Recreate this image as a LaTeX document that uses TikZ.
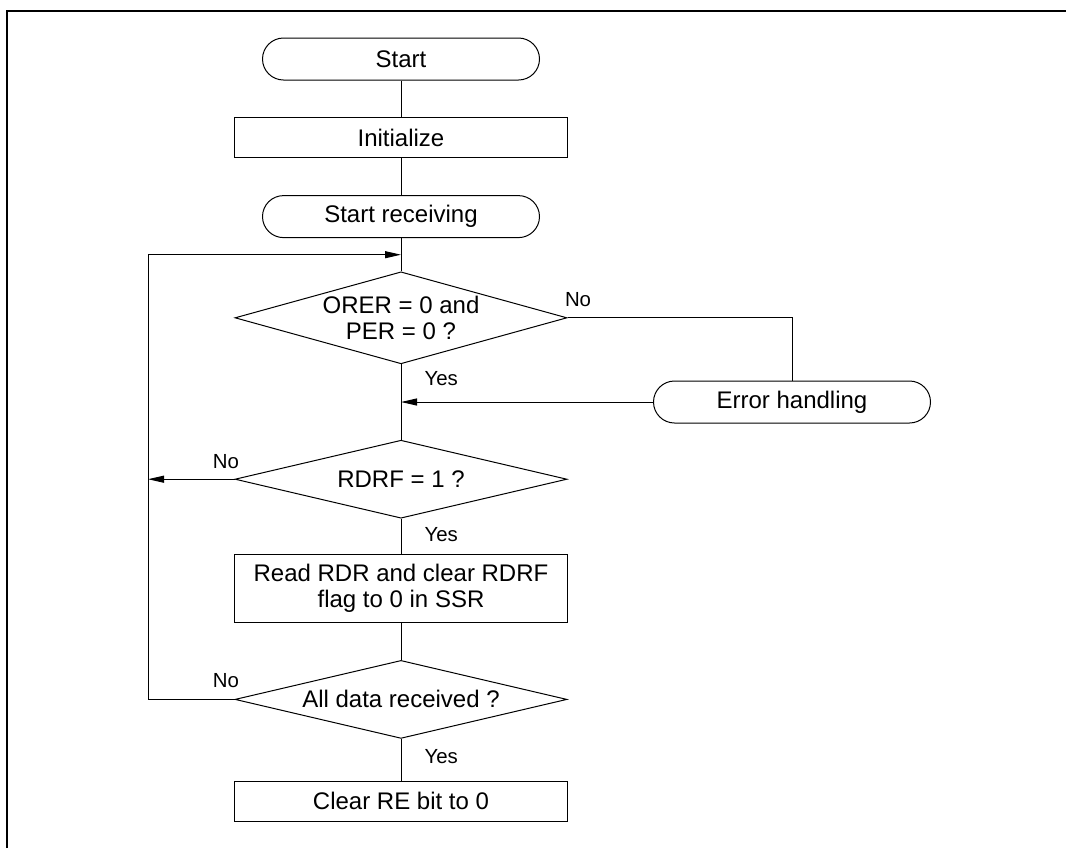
\documentclass[tikz,border=0pt]{standalone}
\usepackage{fontspec}
\setmainfont{Liberation Sans}
\usetikzlibrary{arrows.meta, positioning, calc, shapes.geometric}

\begin{document}
\begin{tikzpicture}[x=0.5pt, y=-0.5pt, node distance=18.5pt, line width=0.5pt,
    every node/.style={font=\fontsize{12}{12.8}\selectfont},
    term/.style={draw, rounded corners=10.5pt, minimum width=138.5pt, minimum height=21pt},
    proc/.style={draw, minimum width=166.5pt, minimum height=20pt, align=center},
    cond/.style={draw, diamond, aspect=3.6, inner sep=0pt, minimum width=166pt, minimum height=39pt, align=center},
    lbl/.style={font=\fontsize{10.2}{12}\selectfont, inner sep=1pt},
    arr/.style={-{Triangle[length=8pt, width=3.5pt]}}]
    \useasboundingbox (0,0) rectangle (1066,848);
    \draw[line width=1pt] (6.5,848) |- (1066,10.7);

    \node[term] (start) at (401,59) {Start};
    \node[proc, below=18.3pt of start] (init) {Initialize};
    \node[term, below=of init] (recv) {Start receiving};
    \node[cond, minimum height=46pt, below=16.6pt of recv] (orer) {ORER = 0 and\\PER = 0 ?};
    \node[cond, below=37.7pt of orer] (rdrf) {RDRF = 1 ?};
    \node[proc, minimum height=34pt, below=17.6pt of rdrf] (read) {Read RDR and clear RDRF\\flag to 0 in SSR};
    \node[cond, below=of read] (all) {All data received ?};
    \node[proc, below=21pt of all] (clear) {Clear RE bit to 0};
    \node[term] (err) at (792,402) {Error handling};

    \coordinate (join) at ($(recv.south)!0.5!(orer.north)$);
    \coordinate (back) at (148,0);

    \draw (start) -- (init) -- (recv) -- (orer) -- (rdrf) -- (read) -- (all) -- (clear);
    \draw[arr] (all.west) -- (all.west -| back) |- (join);
    \draw[arr] (rdrf.west) -- (rdrf.west -| back);
    \draw (orer.east) -| (err.north);
    \draw[arr] (err.west) -- (err.west -| orer.south);

    \node[lbl, above right=4.5pt and -2.5pt of orer.east] (no1) {No};
    \node[lbl, below right=2.5pt and 10.5pt of orer.south] (yes1) {Yes};
    \node[lbl, above left=4pt and -3.5pt of rdrf.west] (no2) {No};
    \node[lbl, below right=3pt and 10.5pt of rdrf.south] (yes2) {Yes};
    \node[lbl, above left=4.5pt and -3.5pt of all.west] (no3) {No};
    \node[lbl, below right=4pt and 10.5pt of all.south] (yes3) {Yes};
\end{tikzpicture}
\end{document}
